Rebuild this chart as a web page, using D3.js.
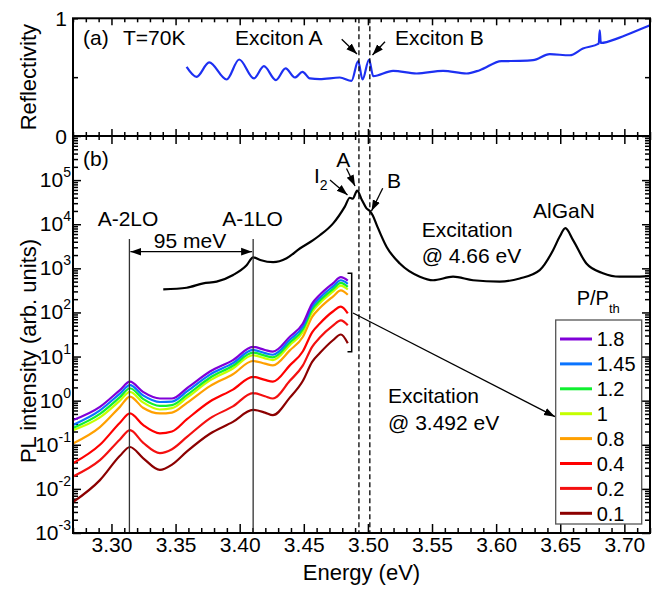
<!DOCTYPE html>
<html><head><meta charset="utf-8">
<script src="https://cdn.jsdelivr.net/npm/d3@7"></script>
<style>body{margin:0;background:#fff} svg{display:block} text{font-family:"Liberation Sans",Arial,sans-serif;fill:#000}</style>
</head><body><svg id="c" width="652" height="589"></svg>
<script>
// ---------- DATA ----------
const reflE = [3.3586,3.3664,3.3762,3.3898,3.3996,3.4111,3.4189,3.4282,3.4358,3.4430,3.4490,3.4547,3.4625,3.4781,3.4872,3.4924,3.4958,3.5009,3.5041,3.5196,3.5379,3.5586,3.5769,3.5872,3.6041,3.6184,3.6288,3.6418,3.6574,3.6677,3.6800,3.6808,3.6816,3.6963,3.7119,3.7197];
const reflV = [0.588,0.503,0.625,0.48,0.65,0.489,0.593,0.475,0.574,0.497,0.545,0.489,0.483,0.497,0.469,0.636,0.48,0.65,0.508,0.553,0.531,0.553,0.531,0.559,0.636,0.638,0.644,0.695,0.686,0.743,0.785,0.898,0.79,0.836,0.904,0.94];

const plHighE = [3.3404,3.3586,3.3716,3.3820,3.3949,3.4054,3.4105,3.4160,3.4261,3.4366,3.4469,3.4573,3.4625,3.4729,3.4820,3.4859,3.4882,3.4916,3.4953,3.4989,3.5015,3.5038,3.5069,3.5145,3.5249,3.5405,3.5508,3.5664,3.5820,3.6028,3.6184,3.6340,3.6444,3.6496,3.6540,3.6600,3.6704,3.6833,3.6963,3.7067,3.7197];
const plHighV = [334,363,457,501,708,1175,1778,1549,1380,1698,2818,4365,5623,10470,25120,39810,38020,57540,35480,22910,19950,15850,9550,3090,1288,646,537,646,537,501,589,912,2570,5248,8128,4365,1288,776,646,646,676];

const plE = [3.270,3.291,3.3066,3.3144,3.3246,3.3378,3.3472,3.3589,3.3768,3.3947,3.4103,3.4197,3.4259,3.4391,3.4493,3.4565,3.4625,3.4727,3.4789,3.4843];
const pl_1_8  = [0.363,0.724,1.74,2.69,1.58,1.12,1.12,1.91,4.57,8.32,16.6,14.1,12.9,28.2,56.2,158,251,457,631,525];
const pl_1_45 = [0.282,0.603,1.45,2.24,1.32,0.933,0.955,1.62,3.89,7.08,14.1,12.0,11.0,24.0,47.9,135,214,389,537,447];
const pl_1_2  = [0.24,0.501,1.20,1.91,1.10,0.759,0.794,1.35,3.31,6.17,12.3,10.5,9.55,20.9,41.7,117,186,339,468,380];
const pl_1_0  = [0.214,0.417,1.0,1.58,0.912,0.631,0.676,1.17,2.88,5.37,10.7,9.12,8.32,18.2,36.3,102,162,295,407,331];
const pl_0_8  = [0.107,0.251,0.724,1.23,0.692,0.513,0.537,0.891,2.14,3.98,7.94,6.92,6.31,13.8,28.2,79.4,126,229,316,251];
const pl_0_4  = [0.038,0.1,0.316,0.513,0.282,0.182,0.2,0.38,0.955,1.78,3.47,2.95,2.69,6.31,13.2,35.5,56.2,105,135,95.5];
const pl_0_2  = [0.0191,0.0447,0.132,0.214,0.112,0.0646,0.0794,0.151,0.398,0.741,1.48,1.26,1.12,2.82,6.31,16.6,26.9,50.1,66.1,51.3];
const pl_0_1  = [0.00501,0.0158,0.0562,0.0891,0.0501,0.0269,0.0355,0.0708,0.178,0.331,0.617,0.537,0.468,1.17,2.82,7.59,12.0,23.4,31.6,20.0];

const legendLabels = ["1.8","1.45","1.2","1","0.8","0.4","0.2","0.1"];
const legendColors = ["#8000d8","#0a74ff","#10f030","#c4ff00","#ffa000","#ff0000","#f41010","#8c0000"];
const plSeries = [pl_1_8,pl_1_45,pl_1_2,pl_1_0,pl_0_8,pl_0_4,pl_0_2,pl_0_1];

const xMajor = [3.30,3.35,3.40,3.45,3.50,3.55,3.60,3.65,3.70];
const yDecades = [1e-3,1e-2,1e-1,1e0,1e1,1e2,1e3,1e4,1e5,1e6];
const yExpLabels = ["-3","-2","-1","0","1","2","3","4","5"];
const lineA2LO = 3.314, lineA1LO = 3.4105;
const dashA = 3.493, dashB = 3.5015;

// ---------- LAYOUT ----------
const svg = d3.select("#c");
const L=73, R=650, TA=18.3, BA=136, BB=533;
const x = d3.scaleLinear().domain([3.27,3.72]).range([L,R]);
const yR = d3.scaleLinear().domain([0,1]).range([BA,TA]);
const yP = d3.scaleLog().domain([1e-3,1e6]).range([BB,BA]);
const FONT = '"Liberation Sans",Arial,sans-serif';

const defs = svg.append("defs");
defs.append("clipPath").attr("id","clipA").append("rect").attr("x",L).attr("y",TA).attr("width",R-L).attr("height",BA-TA);
defs.append("clipPath").attr("id","clipB").append("rect").attr("x",L).attr("y",BA).attr("width",R-L).attr("height",BB-BA);
defs.append("marker").attr("id","ah").attr("viewBox","0 0 10 10").attr("refX",10).attr("refY",5)
  .attr("markerWidth",11).attr("markerHeight",11).attr("markerUnits","userSpaceOnUse").attr("orient","auto-start-reverse")
  .append("path").attr("d","M0,1.5 L10,5 L0,8.5 z").attr("fill","#000");

const xMinor = d3.range(327,373).map(d=>d/100).filter(v=>!xMajor.some(m=>Math.abs(m-v)<1e-6));
const yMinor = [];
for (let k=-3;k<6;k++) for (let m=2;m<10;m++) yMinor.push(m*Math.pow(10,k));

function style(g){ g.select(".domain").remove(); g.selectAll("line").attr("stroke","#000").attr("stroke-width",1.5); return g; }

// top panel ticks
style(svg.append("g").attr("transform",`translate(0,${TA})`).call(d3.axisTop(x).tickValues(xMajor).tickSize(-7).tickFormat("")));
style(svg.append("g").attr("transform",`translate(0,${TA})`).call(d3.axisTop(x).tickValues(xMinor).tickSize(-4).tickFormat("")));
style(svg.append("g").attr("transform",`translate(0,${BA})`).call(d3.axisBottom(x).tickValues(xMajor).tickSize(-7).tickFormat("")));
style(svg.append("g").attr("transform",`translate(0,${BA})`).call(d3.axisBottom(x).tickValues(xMinor).tickSize(-4).tickFormat("")));
style(svg.append("g").attr("transform",`translate(${L},0)`).call(d3.axisLeft(yR).tickValues([0,0.5,1]).tickSize(-5).tickFormat("")));
style(svg.append("g").attr("transform",`translate(${R},0)`).call(d3.axisRight(yR).tickValues([0,0.5,1]).tickSize(-5).tickFormat("")));

// bottom panel ticks
style(svg.append("g").attr("transform",`translate(0,${BA})`).call(d3.axisTop(x).tickValues(xMajor).tickSize(-8).tickFormat("")));
style(svg.append("g").attr("transform",`translate(0,${BA})`).call(d3.axisTop(x).tickValues(xMinor).tickSize(-4).tickFormat("")));
const xb = style(svg.append("g").attr("transform",`translate(0,${BB})`).call(d3.axisBottom(x).tickValues(xMajor).tickSize(-9).tickPadding(4).tickFormat(d3.format(".2f"))));
xb.attr("font-size",21).attr("font-family",FONT);
xb.selectAll("text").attr("fill","#000");
style(svg.append("g").attr("transform",`translate(0,${BB})`).call(d3.axisBottom(x).tickValues(xMinor).tickSize(-5).tickFormat("")));
style(svg.append("g").attr("transform",`translate(${L},0)`).call(d3.axisLeft(yP).tickValues(yDecades).tickSize(-8).tickFormat("")));
style(svg.append("g").attr("transform",`translate(${L},0)`).call(d3.axisLeft(yP).tickValues(yMinor).tickSize(-5).tickFormat("")));
style(svg.append("g").attr("transform",`translate(${R},0)`).call(d3.axisRight(yP).tickValues(yDecades).tickSize(-8).tickFormat("")));
style(svg.append("g").attr("transform",`translate(${R},0)`).call(d3.axisRight(yP).tickValues(yMinor).tickSize(-5).tickFormat("")));

// y tick labels (log)
yExpLabels.forEach((e,i)=>{
  const yy = yP(yDecades[i]);
  const t = svg.append("text").attr("x",71).attr("y",yy+7).attr("text-anchor","end").attr("font-size",21);
  t.append("tspan").text("10");
  t.append("tspan").attr("font-size",14).attr("dy",-10).text(e);
});
svg.append("text").attr("x",67).attr("y",yR(1)+7.5).attr("text-anchor","end").attr("font-size",21).text("1");
svg.append("text").attr("x",67).attr("y",yR(0)+7.5).attr("text-anchor","end").attr("font-size",21).text("0");

// axis titles
svg.append("text").attr("x",361.5).attr("y",580).attr("text-anchor","middle").attr("font-size",22).text("Energy (eV)");
svg.append("text").attr("transform",`translate(36,${(TA+BA)/2}) rotate(-90)`).attr("text-anchor","middle").attr("font-size",22).text("Reflectivity");
svg.append("text").attr("transform",`translate(36,351) rotate(-90)`).attr("text-anchor","middle").attr("font-size",22).text("PL intensity (arb. units)");

// ---------- MARKS ----------
const reflLine = d3.line().x((d,i)=>x(reflE[i])).y(d=>yR(d)).curve(d3.curveMonotoneX);
svg.append("path").attr("clip-path","url(#clipA)").attr("d",reflLine(reflV)).attr("fill","none").attr("stroke","#1d30f2").attr("stroke-width",2.2);

const highLine = d3.line().x((d,i)=>x(plHighE[i])).y(d=>yP(d)).curve(d3.curveMonotoneX);
svg.append("path").attr("clip-path","url(#clipB)").attr("d",highLine(plHighV)).attr("fill","none").attr("stroke","#000").attr("stroke-width",2.2);

const plLine = d3.line().x((d,i)=>x(plE[i])).y(d=>yP(d)).curve(d3.curveMonotoneX);
for (let s=plSeries.length-1;s>=0;s--){
  svg.append("path").attr("clip-path","url(#clipB)").attr("d",plLine(plSeries[s])).attr("fill","none")
    .attr("stroke",legendColors[s]).attr("stroke-width",2.2);
}

// vertical lines
[lineA2LO,lineA1LO].forEach(e=>{
  svg.append("line").attr("x1",x(e)).attr("x2",x(e)).attr("y1",239).attr("y2",BB).attr("stroke","#333").attr("stroke-width",1.3);
});
[dashA,dashB].forEach(e=>{
  svg.append("line").attr("x1",x(e)).attr("x2",x(e)).attr("y1",TA).attr("y2",BB).attr("stroke","#000").attr("stroke-width",1.3).attr("stroke-dasharray","5,3");
});

// frames
svg.append("rect").attr("x",L).attr("y",TA).attr("width",R-L).attr("height",BA-TA).attr("fill","none").attr("stroke","#000").attr("stroke-width",2);
svg.append("rect").attr("x",L).attr("y",BA).attr("width",R-L).attr("height",BB-BA).attr("fill","none").attr("stroke","#000").attr("stroke-width",2);

// ---------- ANNOTATIONS ----------
function txt(x0,y0,s,size,anchor){ return svg.append("text").attr("x",x0).attr("y",y0).attr("font-size",size||21).attr("text-anchor",anchor||"start").text(s); }
function arrow(x1,y1,x2,y2,both){
  const l = svg.append("line").attr("x1",x1).attr("y1",y1).attr("x2",x2).attr("y2",y2).attr("stroke","#000").attr("stroke-width",1.3).attr("marker-end","url(#ah)");
  if (both) l.attr("marker-start","url(#ah)");
}
txt(83,45,"(a)"); txt(123,45,"T=70K"); txt(235,45,"Exciton A"); txt(395,45,"Exciton B");
arrow(341.7,39.3,357,54); arrow(385,41.7,372.5,55);
txt(83,166,"(b)");
txt(128,226,"A-2LO",21,"middle"); txt(252.5,226,"A-1LO",21,"middle");
txt(190,248,"95 meV",21,"middle");
arrow(x(lineA2LO)+1,251.7,x(lineA1LO)-1,251.7,true);
const i2 = svg.append("text").attr("x",314).attr("y",183).attr("font-size",21);
i2.append("tspan").text("I"); i2.append("tspan").attr("font-size",14).attr("dy",7).text("2");
txt(343.3,166.7,"A",21,"middle"); txt(387,187.7,"B");
arrow(330,180,347.5,195); arrow(346.5,168.5,355,186); arrow(382.7,188.3,371.5,211);
txt(421.7,236.7,"Excitation"); txt(421.7,263.3,"@ 4.66 eV");
txt(533,218.3,"AlGaN");
txt(388,403,"Excitation"); txt(388,430,"@ 3.492 eV");
// bracket
svg.append("path").attr("d","M347.5,273.3 H351.7 V351.7 H347.5").attr("fill","none").attr("stroke","#000").attr("stroke-width",1.5);
arrow(353,313,555,416.7);

// ---------- LEGEND ----------
const t = svg.append("text").attr("x",576.7).attr("y",305).attr("font-size",20);
t.append("tspan").text("P/P"); t.append("tspan").attr("font-size",13).attr("dy",8).text("th");
svg.append("rect").attr("x",555.7).attr("y",320).attr("width",86).attr("height",204).attr("fill","#fff").attr("stroke","#555").attr("stroke-width",1.3);
legendLabels.forEach((lab,i)=>{
  const yy = 339 + i*24.9;
  svg.append("line").attr("x1",560).attr("x2",592).attr("y1",yy).attr("y2",yy).attr("stroke",legendColors[i]).attr("stroke-width",3);
  txt(596.7,yy+7.2,lab,20);
});
</script></body></html>
